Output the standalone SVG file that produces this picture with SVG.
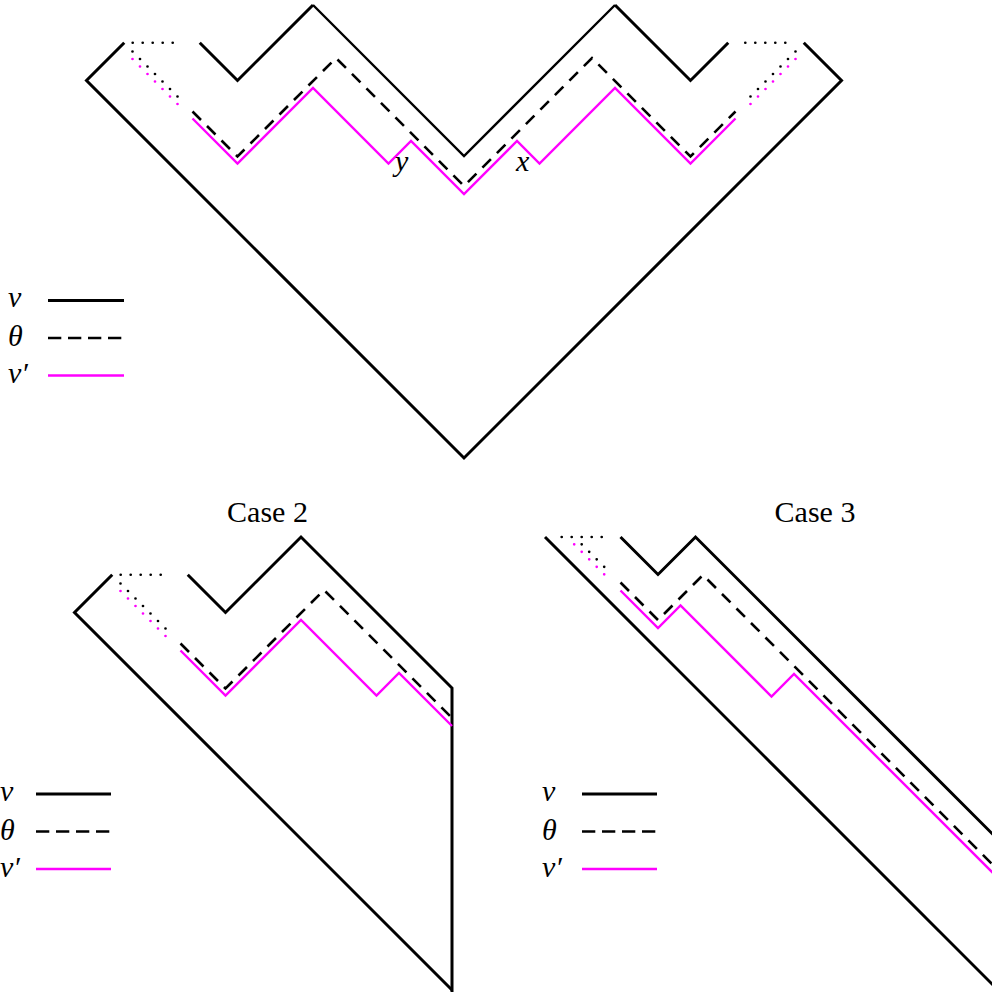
<svg xmlns="http://www.w3.org/2000/svg" width="992" height="992" viewBox="0 0 992 992">
<style>
.v{fill:none;stroke:#000;stroke-width:3;stroke-linejoin:miter}
.vt{fill:none;stroke:#000;stroke-width:2.4}
.th{fill:none;stroke:#000;stroke-width:2.6;stroke-dasharray:12 8.5}
.vp{fill:none;stroke:#ff00ff;stroke-width:2.4}
.dk{fill:none;stroke:#000;stroke-width:2.7;stroke-linecap:round;stroke-dasharray:0 10}
.dkd{fill:none;stroke:#000;stroke-width:2.7;stroke-linecap:round;stroke-dasharray:0 10.607}
.dmd{fill:none;stroke:#ff00ff;stroke-width:2.7;stroke-linecap:round;stroke-dasharray:0 10.607}
.m{font-family:"Liberation Serif",serif;font-style:italic;font-size:30px;fill:#000}
.t{font-family:"Liberation Serif",serif;font-size:30px;fill:#000;text-anchor:middle}
</style>
<rect width="992" height="992" fill="#fff"/>

<g id="fig1">
  <g id="fig1-connectors">
    <path class="v" d="M124.25,42.75 L86.5,80.5 L464,458 L841.5,80.5 L803.75,42.75"/>
    <path class="v" d="M199.75,42.75 L237.5,80.5 L313,5"/>
    <path class="vt" d="M313,5 L464,156 L615,5"/>
    <path class="v" d="M615,5 L690.5,80.5 L728.25,42.75"/>
    <path class="th" d="M192.5,111.5 L237.5,156.5 L336,58 L464,186 L592,58 L690.5,156.5 L735.5,111.5"/>
    <path class="vp" d="M192.5,118.5 L237.5,163.5 L313,88 L388.5,163.5 L411,141 L464,194 L517,141 L539.5,163.5 L615,88 L690.5,163.5 L735.5,118.5"/>
    <path class="dk" d="M132.7,42.75 H182.7"/>
    <path class="dk" d="M745.3,42.75 H795.3"/>
    <path class="dkd" d="M132.5,51.5 L185,104"/>
    <path class="dkd" d="M795.5,51.5 L743,104"/>
    <path class="dmd" d="M132.5,59 L185,111.5"/>
    <path class="dmd" d="M795.5,59 L743,111.5"/>
  </g>
  <text class="m" x="395" y="171">y</text>
  <text class="m" x="516" y="171">x</text>
  <g id="legend1">
    <text class="m" x="8" y="307">v</text>
    <text class="m" x="8" y="346">θ</text>
    <text class="m" x="8" y="383">v′</text>
    <path class="v" d="M48,300.5 H124" stroke-width="3.3"/>
    <path class="th" d="M48,338 H124" style="stroke-dasharray:13.3 6.7"/>
    <path class="vp" d="M48,375.5 H124"/>
  </g>
</g>

<g id="fig2">
  <text class="t" x="267.5" y="522">Case 2</text>
  <g id="fig2-connectors">
    <path class="v" d="M112.25,574.75 L74.5,612.5 L452,990"/>
    <path class="v" d="M187.75,574.75 L225.5,612.5 L301,537 L452,688 L452,992"/>
    <path class="th" d="M180.5,643.5 L225.5,688.5 L324,590 L452,718"/>
    <path class="vp" d="M180.5,650.5 L225.5,695.5 L301,620 L376.5,695.5 L399,673 L452,726"/>
    <path class="dk" d="M120.7,574.75 H170.7"/>
    <path class="dkd" d="M120.5,583.5 L173,636"/>
    <path class="dmd" d="M120.5,591 L173,643.5"/>
  </g>
  <g id="legend2">
    <text class="m" x="0" y="800.5">v</text>
    <text class="m" x="0" y="839.5">θ</text>
    <text class="m" x="0" y="876.5">v′</text>
    <path class="v" d="M36,794 H111" stroke-width="3.3"/>
    <path class="th" d="M36,831.5 H111" style="stroke-dasharray:13.3 6.7"/>
    <path class="vp" d="M36,869 H111"/>
  </g>
</g>

<g id="fig3">
  <text class="t" x="815" y="522">Case 3</text>
  <g id="fig3-connectors">
    <path class="v" d="M545,537 L1010,1002"/>
    <path class="v" d="M620.5,537 L658,574.5 L695.5,537 L1010,851.5"/>
    <path class="th" d="M620.5,582.5 L658,620 L703,575 L1010,882"/>
    <path class="vp" d="M620.5,590.5 L658,628 L680.5,605.5 L771.5,696.5 L794,674 L1010,890"/>
    <path class="dk" d="M561.7,537 H611.7"/>
    <path class="dkd" d="M581.7,544.3 L611.7,574.3"/>
    <path class="dmd" d="M574.2,544.3 L611.7,581.8"/>
  </g>
  <g id="legend3">
    <text class="m" x="542" y="800.5">v</text>
    <text class="m" x="542" y="839.5">θ</text>
    <text class="m" x="542" y="876.5">v′</text>
    <path class="v" d="M582,794 H657" stroke-width="3.3"/>
    <path class="th" d="M582,831.5 H657" style="stroke-dasharray:13.3 6.7"/>
    <path class="vp" d="M582,869 H657"/>
  </g>
</g>
</svg>
